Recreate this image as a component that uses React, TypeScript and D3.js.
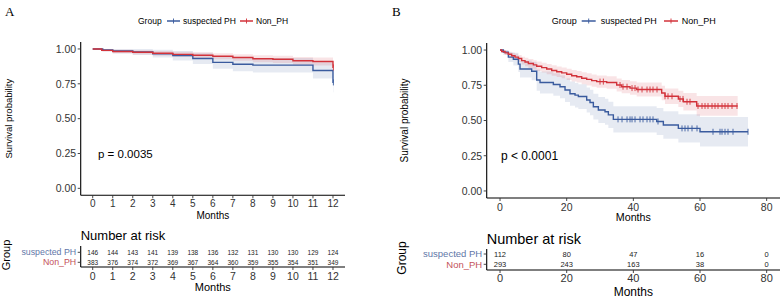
import React from "react";
import * as d3 from "d3";

// ---------- DATA ----------
const groups = ["suspected PH", "Non_PH"];
const yTicks = [0, 0.25, 0.5, 0.75, 1];

// Panel A: [time, survival, CI half-width]
const A_susp: [number, number, number][] = [
  [0, 1, 0], [0.5, 0.993, 0.012], [1, 0.986, 0.018], [2, 0.979, 0.022], [3, 0.966, 0.028],
  [4, 0.952, 0.034], [5, 0.932, 0.04], [6, 0.904, 0.046], [7, 0.89, 0.05], [8, 0.884, 0.052],
  [11, 0.846, 0.058], [12, 0.76, 0.07], [12.02, 0.76, 0.07],
];
const A_non: [number, number, number][] = [
  [0, 1, 0], [0.45, 0.99, 0.008], [1, 0.982, 0.013], [2, 0.976, 0.015], [3, 0.969, 0.017],
  [4, 0.961, 0.019], [5, 0.955, 0.021], [6, 0.948, 0.022], [7, 0.939, 0.024], [8, 0.93, 0.025],
  [9, 0.926, 0.026], [10, 0.915, 0.028], [11, 0.91, 0.029], [12, 0.868, 0.036], [12.02, 0.868, 0.036],
];
const A_censSusp = [12.02];
const A_censNon = [12.02];
const A_xTicks = [0, 1, 2, 3, 4, 5, 6, 7, 8, 9, 10, 11, 12];
const A_riskSusp = [146, 144, 143, 141, 139, 138, 136, 132, 131, 130, 130, 129, 124];
const A_riskNon = [383, 376, 374, 372, 369, 367, 364, 360, 359, 355, 354, 351, 349];

// Panel B
const B_susp: [number, number, number][] = [
  [0, 1, 0], [1, 0.985, 0.02], [2.5, 0.95, 0.035], [4, 0.935, 0.045], [5.5, 0.9, 0.055],
  [6, 0.866, 0.06], [9.5, 0.85, 0.065], [11, 0.787, 0.075], [12, 0.77, 0.078], [16, 0.756, 0.08],
  [18, 0.74, 0.082], [19.5, 0.716, 0.084], [21, 0.69, 0.086], [22.5, 0.68, 0.087], [23.5, 0.67, 0.088],
  [26, 0.645, 0.089], [27, 0.628, 0.09], [28, 0.598, 0.091], [29.5, 0.574, 0.092], [31.5, 0.562, 0.092],
  [32.5, 0.54, 0.093], [34, 0.508, 0.094], [47, 0.493, 0.096], [49, 0.468, 0.098], [53.5, 0.444, 0.1],
  [60, 0.42, 0.105], [74.4, 0.42, 0.105],
];
const B_non: [number, number, number][] = [
  [0, 1, 0], [0.5, 0.99, 0.01], [1.5, 0.98, 0.015], [2.5, 0.97, 0.018], [3.5, 0.96, 0.02],
  [4.5, 0.95, 0.023], [5.5, 0.94, 0.025], [6.5, 0.925, 0.028], [7.5, 0.915, 0.03], [8.5, 0.905, 0.032],
  [10, 0.895, 0.033], [11, 0.885, 0.034], [12.5, 0.875, 0.035], [14, 0.865, 0.036], [15.5, 0.855, 0.037],
  [17, 0.846, 0.038], [18.5, 0.838, 0.039], [20, 0.828, 0.04], [21.5, 0.818, 0.041], [23, 0.81, 0.041],
  [24.5, 0.8, 0.042], [26, 0.792, 0.043], [27.5, 0.783, 0.043], [29, 0.776, 0.044], [32, 0.77, 0.044],
  [35, 0.752, 0.046], [36.5, 0.74, 0.047], [39, 0.73, 0.048], [41, 0.72, 0.049], [48.5, 0.695, 0.052],
  [49.5, 0.672, 0.055], [53.5, 0.653, 0.058], [55, 0.633, 0.062], [59, 0.603, 0.07], [71.3, 0.603, 0.07],
];
const B_censSusp = [35.4, 36.6, 38.1, 39, 39.6, 40.5, 42, 42.9, 44.1, 45, 45.9, 47.4, 54.6, 55.5, 56.4,
  57.6, 59.1, 63.9, 66, 66.6, 67.5, 68.4, 69.9, 74.4];
const B_censNon = [30, 31, 36, 36.9, 38.1, 39.6, 40.5, 41.4, 42.6, 44.1, 45, 45.9, 47.1, 49.5, 50.4, 51.6,
  54, 54.9, 56.1, 57, 59.4, 60.6, 61.5, 62.4, 63.6, 64.5, 65.4, 66.6, 67.5, 68.4, 69.6, 71.1];
const B_xTicks = [0, 20, 40, 60, 80];
const B_riskSusp = [112, 80, 47, 16, 0];
const B_riskNon = [293, 243, 163, 38, 0];

// ---------- STYLE ----------
const FONT = "'Liberation Sans', Arial, sans-serif";
const BLUE = "#3A5B9E";
const RED = "#D2323A";
const BLUE_TXT = "#5F77A8";
const RED_TXT = "#C4525A";
const TICKC = "#333";

type Step = [number, number, number][];

function survAt(data: Step, t: number) {
  let s = 1;
  for (const d of data) if (d[0] <= t) s = d[1];
  return s;
}

interface PanelProps {
  letter: string; lx: number;
  xDom: [number, number]; xRange: [number, number];
  yRange: [number, number];
  susp: Step; non: Step; censS: number[]; censN: number[];
  xTicks: number[]; riskS: number[]; riskN: number[];
  pText: string; pX: number; pY: number; pSize: number;
  legend: { group: number; l1: number; t1: number; l2: number; t2: number; len: number; size: number };
  ax: { tickSize: number; tickBase: number; titleBase: number; titleSize: number; ylabX: number; ylabSize: number };
  risk: { titleBase: number; titleSize: number; row1: number; row2: number; axisY: number; vTop: number;
    numSize: number; labSize: number; tickBase: number; tickSize: number; monthsBase: number; monthsSize: number; groupX: number; groupY: number; groupSize: number };
}

function Panel(p: PanelProps) {
  const x = d3.scaleLinear().domain(p.xDom).range(p.xRange);
  const y = d3.scaleLinear().domain([-0.05, 1.05]).range(p.yRange);
  const x0 = p.xRange[0], x1 = p.xRange[1];
  const yb = p.yRange[0], yt = p.yRange[1];
  const line = d3.line<[number, number, number]>().x(d => x(d[0])).y(d => y(d[1])).curve(d3.curveStepAfter);
  const area = d3.area<[number, number, number]>().x(d => x(d[0]))
    .y0(d => y(Math.max(0, d[1] - d[2]))).y1(d => y(Math.min(1, d[1] + d[2]))).curve(d3.curveStepAfter);
  const fmt = d3.format(".2f");
  const cross = (cx: number, cy: number, col: string, k: string) => (
    <g key={k} stroke={col} strokeWidth={0.9}>
      <line x1={cx} x2={cx} y1={cy - 3} y2={cy + 3} />
    </g>
  );
  const lg = p.legend;
  const ly = 21;
  const r = p.risk;
  const midY = (yb + yt) / 2;
  return (
    <g fontFamily={FONT}>
      <text x={p.lx} y={16} fontFamily="'Liberation Serif', 'Times New Roman', serif" fontSize={13}>{p.letter}</text>
      {/* legend */}
      <text x={lg.group} y={ly + 3} fontSize={lg.size}>Group</text>
      <line x1={lg.l1} x2={lg.l1 + lg.len} y1={ly} y2={ly} stroke={BLUE} strokeWidth={1.5} />
      <line x1={lg.l1 + lg.len / 2} x2={lg.l1 + lg.len / 2} y1={ly - 2.5} y2={ly + 2.5} stroke={BLUE} strokeWidth={0.9} />
      <text x={lg.t1} y={ly + 3} fontSize={lg.size}>{groups[0]}</text>
      <line x1={lg.l2} x2={lg.l2 + lg.len} y1={ly} y2={ly} stroke={RED} strokeWidth={1.5} />
      <line x1={lg.l2 + lg.len / 2} x2={lg.l2 + lg.len / 2} y1={ly - 2.5} y2={ly + 2.5} stroke={RED} strokeWidth={0.9} />
      <text x={lg.t2} y={ly + 3} fontSize={lg.size}>{groups[1]}</text>

      {/* bands */}
      <path d={area(p.susp) || ""} fill={BLUE} fillOpacity={0.13} />
      <path d={area(p.non) || ""} fill={RED} fillOpacity={0.13} />
      {/* curves */}
      <path d={line(p.susp) || ""} fill="none" stroke={BLUE} strokeWidth={1.4} />
      <path d={line(p.non) || ""} fill="none" stroke={RED} strokeWidth={1.4} />
      {p.censS.map((t, i) => cross(x(t), y(survAt(p.susp, t)), BLUE, "cs" + i))}
      {p.censN.map((t, i) => cross(x(t), y(survAt(p.non, t)), RED, "cn" + i))}

      {/* axes */}
      <line x1={x0} x2={x0} y1={yt} y2={yb} stroke="#000" strokeWidth={1.1} />
      <line x1={x0} x2={x1} y1={yb} y2={yb} stroke="#000" strokeWidth={1.1} />
      {yTicks.map(v => (
        <g key={"y" + v}>
          <line x1={x0 - 3} x2={x0} y1={y(v)} y2={y(v)} stroke={TICKC} strokeWidth={0.9} />
          <text x={x0 - 4.5} y={y(v) + 3.8} fontSize={10.5} textAnchor="end" fill={TICKC}>{fmt(v)}</text>
        </g>
      ))}
      {p.xTicks.map(v => (
        <g key={"x" + v}>
          <line x1={x(v)} x2={x(v)} y1={yb} y2={yb + 3} stroke={TICKC} strokeWidth={0.9} />
          <text x={x(v)} y={p.ax.tickBase} fontSize={p.ax.tickSize} textAnchor="middle" fill={TICKC}>{v}</text>
        </g>
      ))}
      <text x={(x0 + x1) / 2} y={p.ax.titleBase} fontSize={p.ax.titleSize} textAnchor="middle">Months</text>
      <text transform={`translate(${p.ax.ylabX},${midY}) rotate(-90)`} fontSize={p.ax.ylabSize} textAnchor="middle">Survival probability</text>
      <text x={p.pX} y={p.pY} fontSize={p.pSize}>{p.pText}</text>

      {/* risk table */}
      <text x={x0} y={r.titleBase} fontSize={r.titleSize}>Number at risk</text>
      <line x1={x0} x2={x0} y1={r.vTop} y2={r.axisY} stroke="#000" strokeWidth={1.1} />
      <line x1={x0} x2={x1} y1={r.axisY} y2={r.axisY} stroke="#000" strokeWidth={1.1} />
      {[r.row1, r.row2].map((ry, i) => (
        <g key={"rl" + i}>
          <line x1={x0 - 3} x2={x0} y1={ry} y2={ry} stroke={TICKC} strokeWidth={0.9} />
          <text x={x0 - 4.5} y={ry + r.labSize * 0.36} fontSize={r.labSize} textAnchor="end" fill={i === 0 ? BLUE_TXT : RED_TXT}>{groups[i]}</text>
        </g>
      ))}
      {p.xTicks.map((v, i) => (
        <g key={"r" + v}>
          <text x={x(v)} y={r.row1 + r.numSize * 0.36} fontSize={r.numSize} textAnchor="middle" fill="#222">{p.riskS[i]}</text>
          <text x={x(v)} y={r.row2 + r.numSize * 0.36} fontSize={r.numSize} textAnchor="middle" fill="#222">{p.riskN[i]}</text>
          <line x1={x(v)} x2={x(v)} y1={r.axisY} y2={r.axisY + 3} stroke={TICKC} strokeWidth={0.9} />
          <text x={x(v)} y={r.tickBase} fontSize={r.tickSize} textAnchor="middle" fill={TICKC}>{v}</text>
        </g>
      ))}
      <text x={(x0 + x1) / 2} y={r.monthsBase} fontSize={r.monthsSize} textAnchor="middle">Months</text>
      <text transform={`translate(${r.groupX},${r.groupY}) rotate(-90)`} fontSize={r.groupSize} textAnchor="middle">Group</text>
    </g>
  );
}

export default function App() {
  return (
    <svg width={783} height={300} style={{ position: "absolute", left: 0, top: 0, background: "#fff" }}>
      <rect width={783} height={300} fill="#fff" />
      <Panel
        letter="A" lx={5}
        xDom={[-0.6, 12.6]} xRange={[80.7, 345]} yRange={[195.3, 42]}
        susp={A_susp} non={A_non} censS={A_censSusp} censN={A_censNon}
        xTicks={A_xTicks} riskS={A_riskSusp} riskN={A_riskNon}
        pText="p = 0.0035" pX={98} pY={158} pSize={11.5}
        legend={{ group: 138, l1: 167, t1: 183, l2: 240, t2: 256, len: 13, size: 8.5 }}
        ax={{ tickSize: 10, tickBase: 207, titleBase: 219, titleSize: 10, ylabX: 12, ylabSize: 9.5 }}
        risk={{ titleBase: 240, titleSize: 13, row1: 252.3, row2: 262.3, axisY: 267, vTop: 246,
          numSize: 6.5, labSize: 8.8, tickBase: 280, tickSize: 10.5, monthsBase: 291, monthsSize: 11,
          groupX: 10, groupY: 255, groupSize: 11 }}
      />
      <Panel
        letter="B" lx={392}
        xDom={[-4, 84]} xRange={[486.7, 780]} yRange={[198, 43]}
        susp={B_susp} non={B_non} censS={B_censSusp} censN={B_censNon}
        xTicks={B_xTicks} riskS={B_riskSusp} riskN={B_riskNon}
        pText="p < 0.0001" pX={501} pY={160} pSize={12}
        legend={{ group: 551.7, l1: 581.7, t1: 600.7, l2: 664, t2: 681.7, len: 14, size: 9 }}
        ax={{ tickSize: 10.5, tickBase: 210.5, titleBase: 221, titleSize: 10.7, ylabX: 408, ylabSize: 10 }}
        risk={{ titleBase: 243.5, titleSize: 14.5, row1: 254, row2: 264.3, axisY: 270, vTop: 249,
          numSize: 7.5, labSize: 9.5, tickBase: 282, tickSize: 11, monthsBase: 296, monthsSize: 12,
          groupX: 406, groupY: 258, groupSize: 12 }}
      />
    </svg>
  );
}
